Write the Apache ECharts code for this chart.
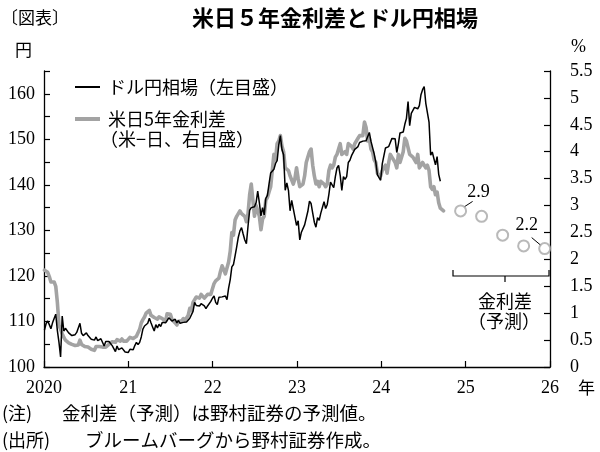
<!DOCTYPE html>
<html><head><meta charset="utf-8">
<script src="https://cdn.jsdelivr.net/npm/echarts@6/dist/echarts.min.js"></script>
<style>html,body{margin:0;padding:0;background:#fff}#c{width:600px;height:452px}</style>
</head><body><div id="c"></div>
<script>
// Weekly observations (Fridays) starting 2020-01-03
const weekStart = '2020-01-03';
const usdjpy = [
 108.1,109.5,110.1,109.3,108.4, 109.7,109.8,111.6,108.0, 105.4,102.2,111.2,107.9, 108.5,108.4,107.5,107.5,
 106.9,106.7,107.1,107.6,107.8, 109.6,107.4,106.9,107.2, 107.5,106.9,107.0,106.1,105.9, 105.9,106.6,105.8,105.4,
 106.2,106.1,104.6,105.6, 105.3,105.6,105.4,104.7,104.6, 103.4,104.6,103.8,104.1, 104.2,104.0,103.3,103.6,
 103.2,103.9,103.9,103.8,104.7, 105.4,104.9,105.4,106.6, 108.3,109.0,108.9,109.6, 110.7,109.7,108.8,107.9,109.3,
 108.6,109.4,108.9,109.8, 109.5,109.7,110.2,110.8, 111.0,110.1,110.1,110.5,109.7, 110.2,109.6,109.8,109.8,
 109.7,109.9,110.0,110.7, 111.0,112.2,114.2,113.5,113.9, 113.4,113.9,114.0,113.4, 112.8,113.4,113.7,114.4,115.1,
 115.6,114.2,113.7,115.3, 115.3,115.4,115.0,115.6, 114.8,117.3,119.2,122.0, 122.5,124.4,126.4,128.5,129.9,
 130.6,129.2,127.9,127.1, 130.9,134.4,135.0,135.2, 135.2,136.1,138.6,136.1,133.2, 135.0,133.4,137.0,137.7,
 140.2,142.6,142.9,143.4,144.7, 145.3,148.7,150.8,147.7, 146.6,138.8,140.4,138.8, 134.3,136.6,136.7,132.9,131.1,
 132.1,127.9,129.6,129.9, 131.2,131.4,134.2,136.4, 135.9,133.8,131.8,130.7,132.8, 132.2,133.8,134.1,136.3,
 134.8,135.7,137.9,140.6, 140.0,139.4,141.8,143.7,144.3, 142.1,138.8,141.8,141.2, 141.8,144.9,145.4,146.4,
 146.2,147.8,147.8,148.4,149.3, 149.3,149.6,149.9,149.7, 149.4,151.5,149.6,149.5, 146.8,145.0,142.2,142.4,141.0,
 144.6,145.0,148.1,148.1, 148.4,149.3,150.2,150.5, 150.1,147.1,149.0,151.4,151.4, 151.6,153.3,154.6,158.3,
 153.0,155.7,155.7,157.0,157.3, 156.7,157.4,159.8,160.9, 161.6,157.9,157.5,153.8, 146.5,147.2,147.6,144.4,146.2,
 142.3,140.8
];
const spread = [
 1.80,1.78,1.76,1.68,1.58, 1.60,1.58,1.50,1.20, 0.78,0.75,0.62,0.55, 0.50,0.48,0.45,0.46,
 0.42,0.43,0.40,0.42,0.41, 0.50,0.42,0.40,0.38, 0.38,0.37,0.36,0.33,0.32, 0.31,0.38,0.36,0.38,
 0.37,0.37,0.38,0.37, 0.40,0.42,0.42,0.47,0.50, 0.46,0.51,0.50,0.48, 0.52,0.48,0.49,0.48,
 0.48,0.55,0.57,0.53,0.52, 0.57,0.60,0.70,0.82, 0.88,0.93,1.00,0.97, 1.05,0.96,0.93,0.92,0.95,
 0.89,0.93,0.94,0.90, 0.87,0.85,0.99,1.00, 0.98,0.88,0.85,0.82,0.78, 0.85,0.87,0.86,0.90,
 0.86,0.91,0.96,1.09, 1.05,1.20,1.22,1.30,1.28, 1.28,1.35,1.32,1.28, 1.25,1.35,1.32,1.35,1.38,
 1.55,1.60,1.60,1.65, 1.78,1.88,1.85,1.73, 1.70,1.95,2.15,2.50, 2.45,2.73,2.80,2.85,2.90,
 2.85,2.85,2.80,2.70, 2.85,3.20,3.40,3.10, 2.80,3.00,3.00,2.80,2.55, 2.75,2.80,3.10,3.15,
 3.25,3.35,3.65,3.95,3.85, 4.15,4.20,4.30,4.10, 4.00,3.70,3.70,3.65, 3.55,3.55,3.40,3.50,3.70,
 3.50,3.35,3.35,3.40, 3.55,3.80,3.90,4.00, 4.05,3.75,3.55,3.40,3.45, 3.35,3.45,3.45,3.40,
 3.35,3.40,3.65,3.75, 3.70,3.75,3.90,3.95,4.05, 4.15,3.95,3.95,4.00, 3.95,4.15,4.15,4.10,
 4.05,4.15,4.15,4.25,4.30, 4.30,4.30,4.55,4.45, 4.20,4.25,4.05,4.00, 3.85,3.80,3.60,3.60,3.55,
 3.65,3.70,3.75,3.60, 3.80,3.95,3.90,3.90, 3.80,3.70,3.95,3.80,3.80, 4.00,4.25,4.20,4.20,
 3.95,3.95,3.90,3.90,3.80, 3.95,3.70,3.70,3.80, 3.80,3.70,3.75,3.65, 3.35,3.30,3.35,3.20,3.25,
 3.05,2.95,2.95,2.90
];
const forecastDates = ['2024-12-10','2025-03-11','2025-06-10','2025-09-09','2025-12-09'];
const forecastValues = [2.9, 2.8, 2.45, 2.25, 2.2];
const forecastLabels = ['2.9', '', '', '', '2.2'];
const yearTicks = [2020, 2021, 2022, 2023, 2024, 2025, 2026];
const yearTickLabels = ['2020', '21', '22', '23', '24', '25', '26'];
const fxName = 'ドル円相場（左目盛）';
const spName = '米日5年金利差';

const JP = '"Noto Sans CJK JP", sans-serif';
const NUM = '"Liberation Serif", "DejaVu Serif", serif';
const GRAY = '#a3a3a3';

function decYear(t) {
  const d = new Date(t);
  const y = d.getUTCFullYear();
  const s = Date.UTC(y, 0, 1), e = Date.UTC(y + 1, 0, 1);
  return y + (t - s) / (e - s);
}
const t0 = Date.parse(weekStart + 'T00:00:00Z');
const week = 7 * 86400000;
const fxData = usdjpy.map((v, i) => [decYear(t0 + i * week), v]);
const spData = spread.map((v, i) => [decYear(t0 + i * week), v]);
const fcData = forecastValues.map((v, i) => [decYear(Date.parse(forecastDates[i] + 'T00:00:00Z')), v]);

function txt(text, x, y, size, align, opts) {
  opts = opts || {};
  return {
    type: 'text', silent: true,
    style: {
      text: text, x: x, y: y,
      font: (opts.weight || 'normal') + ' ' + size + 'px ' + (opts.family || JP),
      fill: '#000',
      textAlign: align, textVerticalAlign: 'middle',
      align: align, verticalAlign: 'middle'
    }
  };
}
const legendText = {fontFamily: JP, fontSize: 18, color: '#000', lineHeight: 20, padding: [0, 0, 0, 3]};

const chart = echarts.init(document.getElementById('c'), null, {renderer: 'canvas'});
chart.setOption({
  animation: false,
  backgroundColor: '#fff',
  grid: {left: 44, right: 50, top: 71, bottom: 85, containLabel: false},
  legend: [{
    left: 70, top: 72, itemWidth: 25, itemHeight: 2, icon: 'rect',
    selectedMode: false, data: [fxName], textStyle: legendText
  }, {
    left: 70, top: 104, itemWidth: 25, itemHeight: 4, icon: 'rect',
    selectedMode: false, data: [spName], textStyle: legendText
  }],
  xAxis: {
    type: 'value', min: yearTicks[0], max: yearTicks[yearTicks.length - 1], interval: 1,
    axisLine: {show: true, lineStyle: {color: '#000', width: 1.3}},
    axisTick: {show: true, inside: true, length: 6, lineStyle: {color: '#000', width: 1.2}},
    splitLine: {show: false},
    axisLabel: {
      margin: 12, color: '#000', fontFamily: NUM, fontSize: 18,
      showMinLabel: true, showMaxLabel: true,
      formatter: v => { const i = yearTicks.indexOf(Math.round(v)); return i >= 0 ? yearTickLabels[i] : ''; }
    }
  },
  yAxis: [{
    type: 'value', min: 100, max: 165, interval: 5, position: 'left',
    axisLine: {show: true, lineStyle: {color: '#000', width: 1.3}},
    axisTick: {show: true, inside: true, length: 6, lineStyle: {color: '#000', width: 1.2}},
    splitLine: {show: false},
    axisLabel: {margin: 9, color: '#000', fontFamily: NUM, fontSize: 18,
      formatter: v => (v % 10 === 0 ? String(v) : '')}
  }, {
    type: 'value', min: 0, max: 5.5, interval: 0.5, position: 'right',
    axisLine: {show: true, lineStyle: {color: '#000', width: 1.3}},
    axisTick: {show: true, inside: true, length: 6, lineStyle: {color: '#000', width: 1.2}},
    splitLine: {show: false},
    axisLabel: {margin: 20, color: '#000', fontFamily: NUM, fontSize: 18,
      formatter: v => String(Math.round(v * 10) / 10)}
  }],
  series: [{
    name: spName, type: 'line', yAxisIndex: 1, data: spData,
    symbol: 'none', smooth: false, color: GRAY,
    lineStyle: {color: GRAY, width: 3.6, join: 'round', cap: 'round'},
    itemStyle: {color: GRAY}, z: 2
  }, {
    name: fxName, type: 'line', yAxisIndex: 0, data: fxData,
    symbol: 'none', smooth: false, color: '#000',
    lineStyle: {color: '#000', width: 1.5},
    itemStyle: {color: '#000'}, z: 3
  }, {
    name: '予測', type: 'scatter', yAxisIndex: 1, data: fcData,
    symbol: 'circle', symbolSize: 11,
    itemStyle: {color: '#fff', borderColor: '#a8a8a8', borderWidth: 2},
    z: 4
  }]
});

// Annotations anchored to the forecast points through the chart's own scales
const graphics = [
  txt('〔図表〕', 1, 18, 17, 'left'),
  txt('米日５年金利差とドル円相場', 335, 18, 22, 'center', {weight: 'bold'}),
  txt('円', 15, 50, 17, 'left'),
  txt('%', 571, 47, 18, 'left', {family: NUM}),
  txt('年', 578, 388, 17, 'left'),
  txt('（米−日、右目盛）', 100, 139, 18, 'left'),
  {type: 'polyline', silent: true, shape: {points: [[453, 270], [453, 276], [549, 276], [549, 270]]},
   style: {stroke: '#000', lineWidth: 1.2, fill: null}},
  {type: 'line', silent: true, shape: {x1: 505, y1: 276, x2: 505, y2: 282},
   style: {stroke: '#000', lineWidth: 1.2}},
  txt('金利差', 505, 301, 18, 'center'),
  txt('（予測）', 504, 321, 18, 'center'),
  txt('(注)', 2, 413, 18, 'left'),
  txt('金利差（予測）は野村証券の予測値。', 62, 413, 18.5, 'left'),
  txt('(出所)', 2, 440, 18, 'left'),
  txt('ブルームバーグから野村証券作成。', 85, 440, 18.5, 'left')
];
const labelOffsets = [{tx: 18, ty: -19, l: [12, -9.5, 3.5, -4]}, null, null, null, {tx: -18, ty: -23, l: [-13, -11, -3.5, -3]}];
fcData.forEach((d, i) => {
  const o = labelOffsets[i];
  if (!o || !forecastLabels[i]) return;
  const p = chart.convertToPixel({xAxisIndex: 0, yAxisIndex: 1}, d);
  graphics.push(txt(forecastLabels[i], p[0] + o.tx, p[1] + o.ty, 18, 'center', {family: NUM}));
  graphics.push({type: 'line', silent: true,
    shape: {x1: p[0] + o.l[0], y1: p[1] + o.l[1], x2: p[0] + o.l[2], y2: p[1] + o.l[3]},
    style: {stroke: '#000', lineWidth: 1}});
});
chart.setOption({graphic: graphics});
</script>
</body></html>
